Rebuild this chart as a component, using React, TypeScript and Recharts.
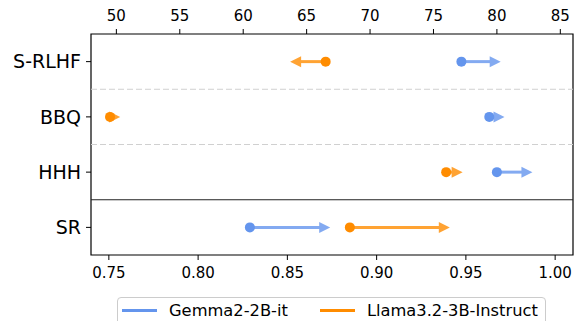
import { ScatterChart, Scatter, XAxis, YAxis, ReferenceLine, ReferenceArea, Legend } from 'recharts';

const categories = ['S-RLHF', 'BBQ', 'HHH', 'SR'];
// first three rows read on the top axis (score), SR on the bottom axis (rate)
const gemmaBefore = [77.2, 79.4, 80.0, 0.829];
const gemmaAfter = [80.3, 80.6, 82.8, 0.874];
const llamaBefore = [66.5, 49.5, 76.0, 0.885];
const llamaAfter = [63.7, 50.3, 77.3, 0.941];
const topTicks = [50, 55, 60, 65, 70, 75, 80, 85];
const bottomTicks = [0.75, 0.8, 0.85, 0.9, 0.95, 1.0];
const models = ['Gemma2-2B-it', 'Llama3.2-3B-Instruct'];

const dotColors = ['#6495ED', '#FF8C00'];
const arrowColors = ['#83AAF1', '#FFA333'];
const FONT = '"DejaVu Sans", sans-serif';
const HEAD_LEN = 11;
const HEAD_HALF = 5.5;

function makeArrow(color: string) {
  return (props: any) => {
    const pts = props.points ?? [];
    if (pts.length < 2) return <g />;
    const [a, b] = pts;
    const dir = b.x >= a.x ? 1 : -1;
    const baseX = b.x - dir * HEAD_LEN;
    const showLine = (baseX - a.x) * dir > 0;
    return (
      <g>
        {showLine && (
          <line x1={a.x} y1={a.y} x2={baseX + dir} y2={b.y} stroke={color} strokeWidth={3} />
        )}
        <polygon
          points={`${b.x},${b.y} ${baseX},${b.y - HEAD_HALF} ${baseX},${b.y + HEAD_HALF}`}
          fill={color}
        />
      </g>
    );
  };
}

function makeDot(color: string) {
  return (props: any) =>
    props.payload?.kind === 'start' ? <circle cx={props.cx} cy={props.cy} r={5} fill={color} /> : <g />;
}

function LegendBox() {
  return (
    <div
      style={{
        boxSizing: 'border-box',
        height: 40,
        border: '1px solid #cccccc',
        borderRadius: 4,
        background: '#fff',
        display: 'flex',
        alignItems: 'flex-start',
        paddingTop: 2.5,
        fontFamily: FONT,
        fontSize: 16.3,
        lineHeight: '20px',
        color: '#000',
      }}
    >
      {models.map((m, i) => (
        <div key={m} style={{ display: 'flex', alignItems: 'center', marginLeft: i === 0 ? 4 : 32 }}>
          <span style={{ display: 'inline-block', width: 35, height: 3, background: dotColors[i] }} />
          <span style={{ marginLeft: 12, whiteSpace: 'nowrap' }}>{m}</span>
        </div>
      ))}
    </div>
  );
}

export default function App() {
  const befores = [gemmaBefore, llamaBefore];
  const afters = [gemmaAfter, llamaAfter];
  const tick = { fill: '#000', fontSize: 15, fontFamily: FONT };

  return (
    <div style={{ position: 'absolute', left: 0, top: 0 }}>
      <ScatterChart width={580} height={321} margin={{ top: 4, right: 7, bottom: 36, left: 0 }}>
        <XAxis
          xAxisId="top"
          orientation="top"
          type="number"
          dataKey="x"
          domain={[48, 86]}
          allowDataOverflow
          ticks={topTicks}
          height={30}
          tick={tick}
          tickSize={5}
          tickMargin={8}
          axisLine={false}
          tickLine={{ stroke: '#000' }}
        />
        <XAxis
          xAxisId="bottom"
          orientation="bottom"
          type="number"
          dataKey="x"
          domain={[0.74, 1.01]}
          allowDataOverflow
          ticks={bottomTicks}
          tickFormatter={(v: number) => v.toFixed(2)}
          height={30}
          tick={tick}
          tickSize={5}
          tickMargin={7}
          axisLine={false}
          tickLine={{ stroke: '#000' }}
        />
        <YAxis
          type="number"
          dataKey="y"
          domain={[-0.5, 3.5]}
          allowDataOverflow
          reversed
          ticks={[0, 1, 2, 3]}
          tickFormatter={(v: number) => categories[v] ?? ''}
          width={91}
          tick={{ ...tick, fontSize: 19 }}
          tickSize={5}
          tickMargin={5}
          axisLine={false}
          tickLine={{ stroke: '#000' }}
        />
        <ReferenceLine xAxisId="top" y={0.5} stroke="#d0d0d0" strokeDasharray="6 3" />
        <ReferenceLine xAxisId="top" y={1.5} stroke="#d0d0d0" strokeDasharray="6 3" />
        <ReferenceLine xAxisId="top" y={2.5} stroke="#222" strokeWidth={1.2} />
        <ReferenceArea
          xAxisId="top"
          x1={48}
          x2={86}
          y1={-0.5}
          y2={3.5}
          fill="none"
          stroke="#000"
          strokeWidth={1.2}
          fillOpacity={0}
        />
        {models.map((m, mi) =>
          categories.map((c, i) => (
            <Scatter
              key={`${m}-${c}`}
              name={m}
              xAxisId={i < 3 ? 'top' : 'bottom'}
              data={[
                { x: befores[mi][i], y: i, kind: 'start' },
                { x: afters[mi][i], y: i, kind: 'end' },
              ]}
              line={makeArrow(arrowColors[mi])}
              shape={makeDot(dotColors[mi])}
              legendType="none"
              isAnimationActive={false}
            />
          ))
        )}
        <Legend
          verticalAlign="middle"
          align="center"
          layout="horizontal"
          wrapperStyle={{ top: 297, left: 117, width: 429, height: 40 }}
          content={() => <LegendBox />}
        />
      </ScatterChart>
    </div>
  );
}
